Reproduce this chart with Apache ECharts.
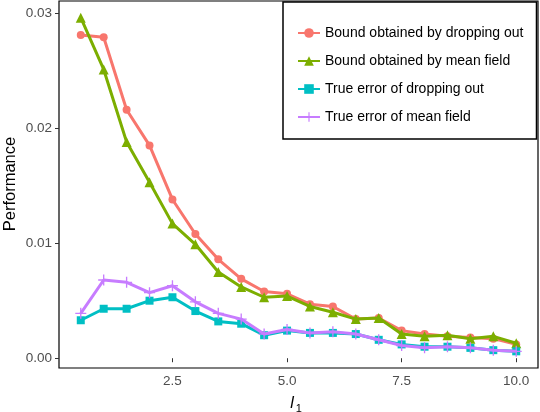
<!DOCTYPE html>
<html>
<head>
<meta charset="utf-8">
<script src="https://cdn.jsdelivr.net/npm/echarts@6/dist/echarts.min.js"></script>
<style>
    html, body { margin: 0; padding: 0; background: #fff; }
    #chart { width: 540px; height: 412px; }
</style>
</head>
<body>
<div id="chart"></div>
<script>
// l1 values on the x axis
const l1Values = [0.5, 1, 1.5, 2, 2.5, 3, 3.5, 4, 4.5, 5, 5.5, 6, 6.5, 7, 7.5, 8, 8.5, 9, 9.5, 10];

// series
const boundDropout = [0.0281, 0.0279, 0.0216, 0.0185, 0.0138, 0.0108, 0.0086, 0.0069, 0.0058, 0.0056,
    0.0047, 0.0045, 0.0034, 0.0035, 0.0024, 0.0021, 0.0019, 0.0018, 0.0017, 0.0012];
const boundMeanField = [0.0296, 0.0251, 0.0188, 0.0153, 0.0117, 0.0099, 0.0075, 0.0062, 0.0053, 0.0054,
    0.0045, 0.0040, 0.0034, 0.0035, 0.0021, 0.0019, 0.0020, 0.0017, 0.0019, 0.0013];
const trueDropout = [0.0033, 0.0043, 0.0043, 0.0050, 0.0053, 0.0041, 0.0032, 0.0030, 0.0020, 0.0024,
    0.0022, 0.0022, 0.0021, 0.0016, 0.0012, 0.0010, 0.0010, 0.0009, 0.0007, 0.0006];
const trueMeanField = [0.0039, 0.0068, 0.0066, 0.0057, 0.0063, 0.0049, 0.0039, 0.0034, 0.0021, 0.0025,
    0.0022, 0.0023, 0.0021, 0.0016, 0.0011, 0.0009, 0.0010, 0.0009, 0.0007, 0.0006];

const seriesNames = [
    'Bound obtained by dropping out',
    'Bound obtained by mean field',
    'True error of dropping out',
    'True error of mean field'
];

// tick labels
const xTicks = [2.5, 5, 7.5, 10];
const yTicks = [0, 0.01, 0.02, 0.03];

const colors = ['#F8766D', '#7CAE00', '#00BFC4', '#C77CFF'];
const plusPath = 'path://M4.4,0 H5.6 V4.4 H10 V5.6 H5.6 V10 H4.4 V5.6 H0 V4.4 H4.4 Z';
const symbols = ['circle', 'triangle', 'rect', plusPath];
const symbolSizes = [8, 10, 8, 11];

const allData = [boundDropout, boundMeanField, trueDropout, trueMeanField];

const font = 'Liberation Sans, Arial, sans-serif';
const chart = echarts.init(document.getElementById('chart'));

const option = {
    animation: false,
    backgroundColor: '#fff',
    color: colors,
    textStyle: { fontFamily: font },
    grid: {
        left: 59,
        right: 2,
        top: 1,
        bottom: 44,
        show: true,
        borderColor: '#000',
        borderWidth: 1.2
    },
    legend: {
        orient: 'vertical',
        left: 283,
        top: 2,
        padding: [24, 13, 15, 14],
        itemWidth: 22,
        itemHeight: 12,
        itemGap: 14,
        borderColor: '#000',
        borderWidth: 1.5,
        backgroundColor: '#fff',
        textStyle: { fontSize: 14, color: '#000', fontFamily: font },
        data: seriesNames
    },
    xAxis: {
        type: 'value',
        min: 0.025,
        max: 10.475,
        splitLine: { show: false },
        axisLine: { show: false },
        axisTick: {
            show: true,
            length: 4,
            customValues: xTicks,
            lineStyle: { color: '#333' }
        },
        axisLabel: {
            customValues: xTicks,
            color: '#4d4d4d',
            fontSize: 13.5,
            margin: 6,
            formatter: v => v.toFixed(1)
        }
    },
    yAxis: {
        type: 'value',
        min: -0.00085,
        max: 0.03105,
        splitLine: { show: false },
        axisLine: { show: false },
        axisTick: {
            show: true,
            length: 4,
            customValues: yTicks,
            lineStyle: { color: '#333' }
        },
        axisLabel: {
            customValues: yTicks,
            color: '#4d4d4d',
            fontSize: 13.5,
            margin: 7,
            formatter: v => v.toFixed(2)
        }
    },
    graphic: [
        {
            type: 'text',
            x: 10,
            y: 184,
            rotation: Math.PI / 2,
            style: {
                text: 'Performance',
                fontSize: 16.5,
                fill: '#000',
                align: 'center',
                verticalAlign: 'middle',
                fontFamily: font
            }
        },
        {
            type: 'text',
            x: 296,
            y: 404,
            style: {
                text: '{l|l}{s|1}',
                fill: '#000',
                align: 'center',
                verticalAlign: 'middle',
                rich: {
                    l: { fontSize: 16, fontStyle: 'italic', fontFamily: font },
                    s: { fontSize: 11, padding: [10, 0, 0, 2], fontFamily: font }
                }
            }
        }
    ],
    series: seriesNames.map((name, i) => ({
        name: name,
        type: 'line',
        data: l1Values.map((x, j) => [x, allData[i][j]]),
        symbol: symbols[i],
        symbolSize: symbolSizes[i],
        showAllSymbol: true,
        lineStyle: { width: 3, color: colors[i] },
        itemStyle: { color: colors[i] },
        z: 2 + i
    }))
};

chart.setOption(option);
</script>
</body>
</html>
